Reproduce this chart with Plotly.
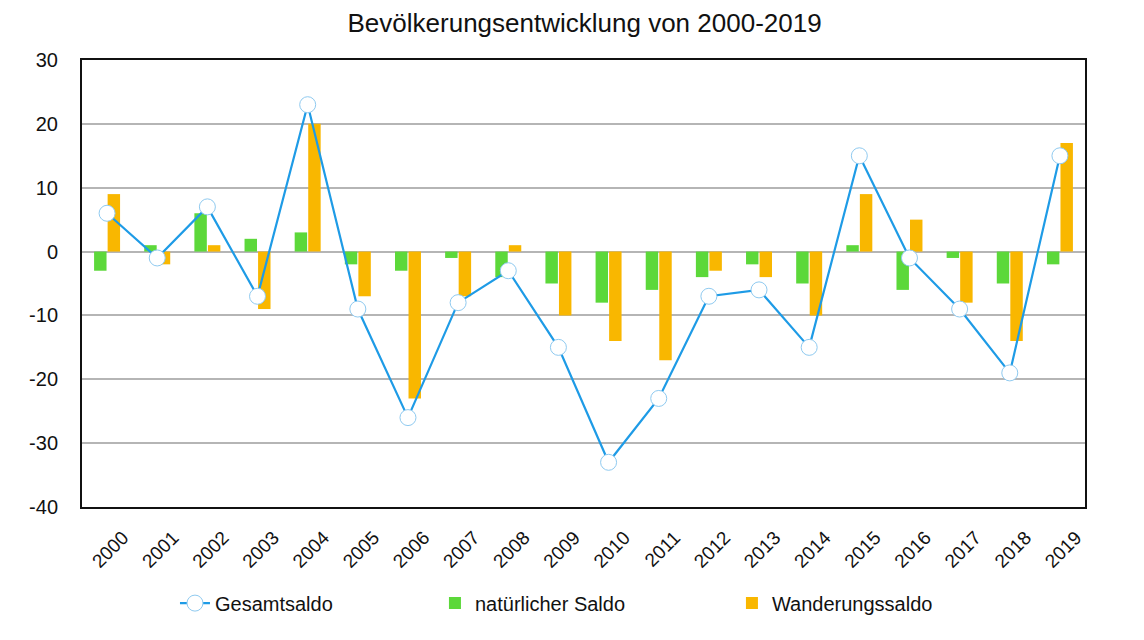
import plotly.graph_objects as go

years = [str(y) for y in range(2000, 2020)]
gesamtsaldo = [6, -1, 7, -7, 23, -9, -26, -8, -3, -15, -33, -23, -7, -6, -15, 15, -1, -9, -19, 15]
natuerlicher_saldo = [-3, 1, 6, 2, 3, -2, -3, -1, -4, -5, -8, -6, -4, -2, -5, 1, -6, -1, -5, -2]
wanderungssaldo = [9, -2, 1, -9, 20, -7, -23, -7, 1, -10, -14, -17, -3, -4, -10, 9, 5, -8, -14, 17]
y_ticks = [30, 20, 10, 0, -10, -20, -30, -40]
y_tick_labels = ["30", "20", "10", "0", "-10", "-20", "-30", "-40"]

fig = go.Figure()
fig.add_trace(go.Bar(x=years, y=natuerlicher_saldo, name="natürlicher Saldo", legend="legend2",
                     marker=dict(color="#5cd83a", line=dict(width=0))))
fig.add_trace(go.Bar(x=years, y=wanderungssaldo, name="Wanderungssaldo", legend="legend3",
                     marker=dict(color="#f9b700", line=dict(width=0))))
fig.add_trace(go.Scatter(x=years, y=gesamtsaldo, name="Gesamtsaldo", mode="lines+markers",
                         legend="legend",
                         line=dict(color="#1e9be6", width=2.2),
                         marker=dict(symbol="circle", size=16, color="white",
                                     line=dict(color="#8fcaf0", width=1))))

leg_common = dict(orientation="h", y=-0.215, xanchor="left", yanchor="middle",
                  font=dict(size=20), bgcolor="rgba(0,0,0,0)")
fig.update_layout(
    width=1144, height=640,
    paper_bgcolor="white", plot_bgcolor="white",
    margin=dict(l=82, r=59, t=60, b=133),
    font=dict(family="Liberation Sans, Arial, sans-serif", color="#111111", size=16),
    title=dict(text="Bevölkerungsentwicklung von 2000-2019", x=0.511, xanchor="center",
               y=0.965, yanchor="middle", font=dict(size=26, color="#111111")),
    barmode="group", bargap=0.46, bargroupgap=0.08,
    showlegend=True,
    legend=dict(x=0.0927, **leg_common),
    legend2=dict(x=0.3519, **leg_common),
    legend3=dict(x=0.648, **leg_common),
)
fig.update_xaxes(type="category", range=[-0.5, 19.5], tickangle=-45, tickfont=dict(size=19),
                 showline=True, linecolor="#111111", linewidth=2, mirror=True,
                 showgrid=False, ticks="", ticklen=0,
                 ticklabelstandoff=10, ticklabelshift=16)
fig.update_yaxes(range=[-40, 30], tickvals=y_ticks, ticktext=y_tick_labels, tickfont=dict(size=20),
                 showline=True, linecolor="#111111", linewidth=2, mirror=True,
                 showgrid=True, gridcolor="#b5b5b5", gridwidth=1.5,
                 zeroline=True, zerolinecolor="#b5b5b5", zerolinewidth=1.5,
                 ticks="", ticklabelstandoff=18)

fig.write_html("out.html")
